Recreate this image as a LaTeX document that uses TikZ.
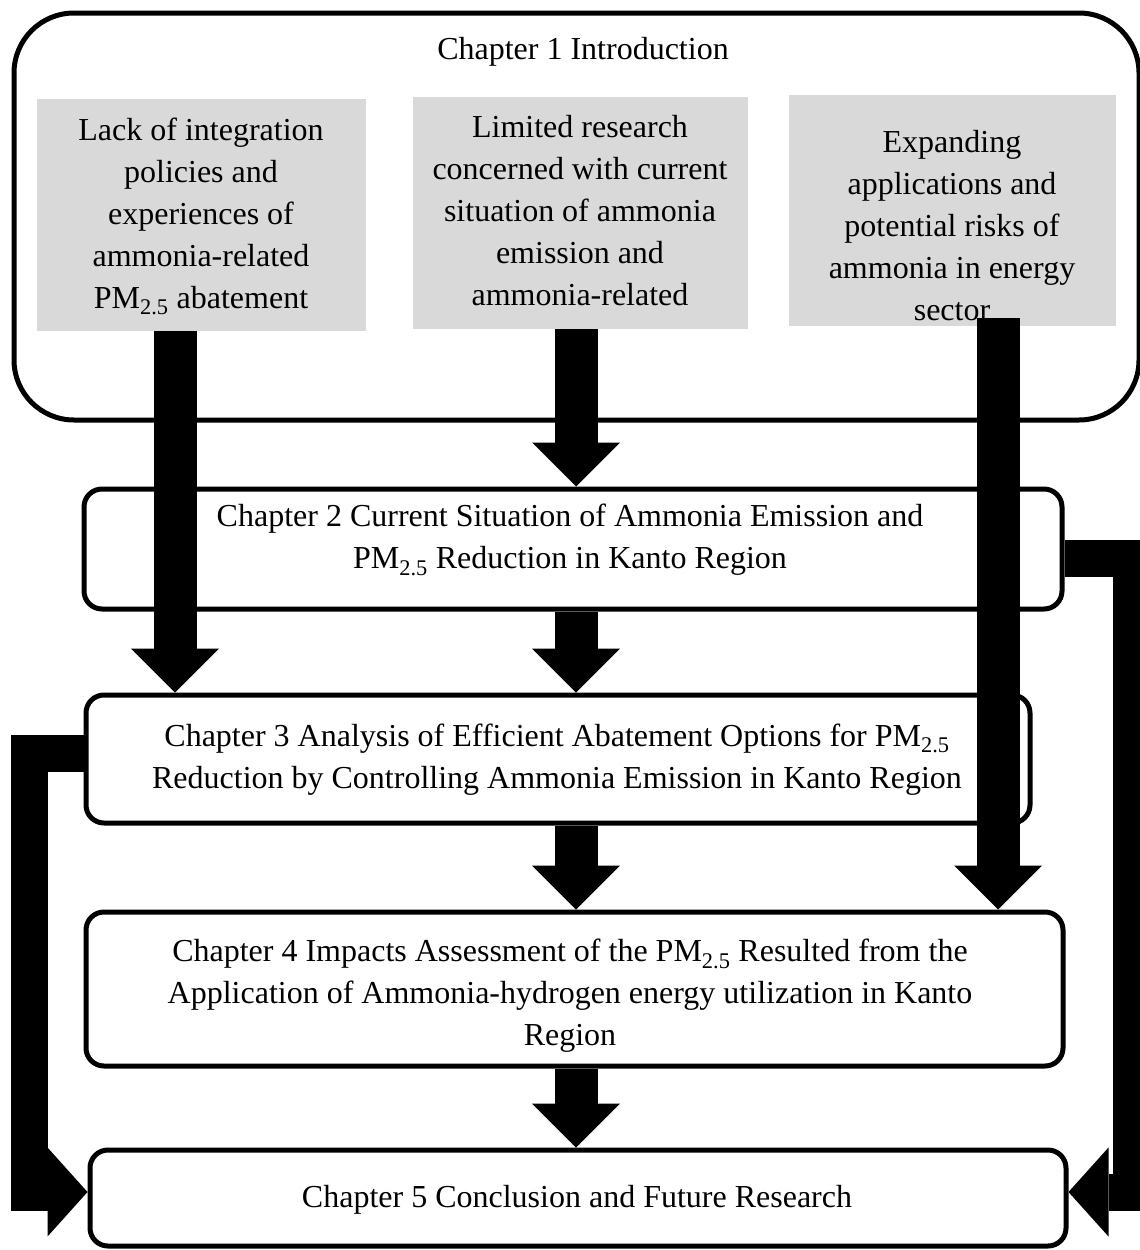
\documentclass[tikz,border=0pt]{standalone}
\usepackage{fontspec}
\setmainfont{Liberation Serif}
\usetikzlibrary{arrows.meta}
\definecolor{boxgray}{HTML}{D9D9D9}

\begin{document}
\begin{tikzpicture}[x=1pt, y=-1pt]
\tikzset{ inner sep=0pt,
  chapbox/.style={draw, line width=5pt, rounded corners=18pt},
  gapbox/.style={fill=boxgray},
  txt/.style={align=center, font=\fontsize{32}{42}\selectfont},
  bigarrow/.style={line width=43pt, -{Triangle[length=44pt, width=88pt, line width=0pt]}},
  bendarrow/.style={line width=37pt, -{Triangle[length=40pt, width=89pt, line width=0pt]}},
}

\useasboundingbox (0,0) rectangle (1140,1250);

\node [chapbox, rounded corners=60pt, minimum width=1125pt, minimum height=407pt] (C1) at (576.5,216.5) {};

\node [gapbox, minimum width=329pt, minimum height=232pt] (G1) at (201.5,215) {};
\node [gapbox, minimum width=335pt, minimum height=232pt] (G2) at (580.5,213) {};
\node [gapbox, minimum width=327pt, minimum height=231pt] (G3) at (952.5,210.5) {};

\node [chapbox, minimum width=978pt, minimum height=120pt] (C2) at (573,549) {};
\node [chapbox, minimum width=944pt, minimum height=128pt] (C3) at (558,759) {};
\node [chapbox, minimum width=977pt, minimum height=154pt] (C4) at (574.5,989) {};
\node [chapbox, minimum width=976pt, minimum height=96pt]  (C5) at (578,1198) {};

\node [txt] (T1) at (583,52) {Chapter 1 Introduction};
\node [txt] (TG1) at (201,216.5) {Lack of integration\\policies and\\experiences of\\ammonia-related\\PM\textsubscript{2.5} abatement};
\node [txt] (TG2) at (580,211) {Limited research\\concerned with current\\situation of ammonia\\emission and\\ammonia-related};
\node [txt] (TG3) at (952,226) {Expanding\\applications and\\potential risks of\\ammonia in energy\\sector};
\node [txt] (T2) at (570,540) {Chapter 2 Current Situation of Ammonia Emission and\\PM\textsubscript{2.5} Reduction in Kanto Region};
\node [txt] (T3) at (557,759.5) {Chapter 3 Analysis of Efficient Abatement Options for PM\textsubscript{2.5}\\Reduction by Controlling Ammonia Emission in Kanto Region};
\node [txt] (T4) at (570,996) {Chapter 4 Impacts Assessment of the PM\textsubscript{2.5} Resulted from the\\Application of Ammonia-hydrogen energy utilization in Kanto\\Region};
\node [txt] (T5) at (577,1200) {Chapter 5 Conclusion and Future Research};

\coordinate (leftx)  at (175,0);
\coordinate (midx)   at (576,0);
\coordinate (rightx) at (998,0);
\coordinate (ledge)  at (29,0);
\coordinate (redge)  at (1131,0);

\draw [bigarrow] (leftx |- G1.south) -- (leftx |- C3.north);
\draw [bigarrow] (midx |- G2.south)  -- (midx |- C2.north);
\draw [bigarrow] (midx |- C2.south)  -- (midx |- C3.north);
\draw [bigarrow] (midx |- C3.south)  -- (midx |- C4.north);
\draw [bigarrow] (midx |- C4.south)  -- (midx |- C5.north);
\draw [bigarrow] ([yshift=8pt]rightx |- G3.south) -- (rightx |- C4.north);

\draw [bendarrow] ([yshift=6pt]C3.west) -| ([yshift=6pt]ledge |- C5.west) -- ([yshift=6pt]C5.west);
\draw [bendarrow] ([yshift=-9pt]C2.east) -| ([yshift=6pt]redge |- C5.east) -- ([yshift=6pt]C5.east);
\end{tikzpicture}
\end{document}
